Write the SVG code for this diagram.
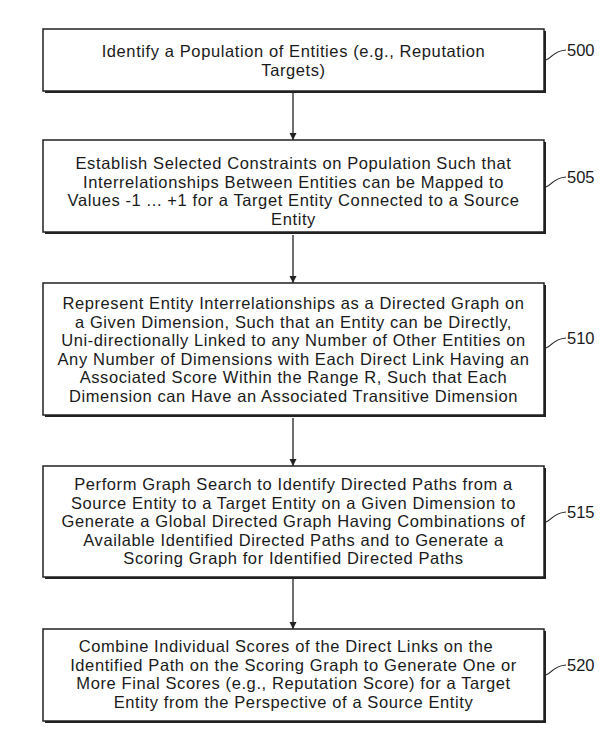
<svg xmlns="http://www.w3.org/2000/svg" width="608" height="735" viewBox="0 0 608 735">
<defs>
<style>
.box{fill:#fff;stroke:#222;stroke-width:1.5}
.sh{fill:#222}
.t{font-family:"Liberation Sans",Arial,sans-serif;font-size:16.5px;letter-spacing:0.6px;fill:#1a1a1a;text-anchor:middle}
.ref{font-family:"Liberation Sans",Arial,sans-serif;font-size:16.5px;fill:#1a1a1a}
.ld{fill:none;stroke:#222;stroke-width:1.2}
.cn{stroke:#222;stroke-width:1.3;fill:none}
</style>
<marker id="ah" viewBox="0 0 10 10" refX="10" refY="5" markerWidth="7" markerHeight="10" markerUnits="userSpaceOnUse" orient="auto">
<path d="M0,0 L10,5 L0,10 Z" fill="#222"/>
</marker>
</defs>
<rect width="608" height="735" fill="#fff"/>
<g id="connectors">
<line class="cn" x1="293" y1="92" x2="293" y2="140" marker-end="url(#ah)"/>
<line class="cn" x1="293" y1="235" x2="293" y2="283" marker-end="url(#ah)"/>
<line class="cn" x1="293" y1="418" x2="293" y2="466" marker-end="url(#ah)"/>
<line class="cn" x1="293" y1="579" x2="293" y2="629" marker-end="url(#ah)"/>
</g>
<g id="n500">
<rect class="sh" x="45" y="31" width="501" height="62"/>
<rect class="box" x="43" y="29" width="501" height="62"/>
<text class="t" x="293.5" y="57">Identify a Population of Entities (e.g., Reputation</text>
<text class="t" x="293.5" y="76">Targets)</text>
<path class="ld" d="M546,60 C552,58 553,51 566,50"/>
<text class="ref" x="567" y="56">500</text>
</g>
<g id="n505">
<rect class="sh" x="45" y="142" width="501" height="92"/>
<rect class="box" x="43" y="140" width="501" height="92"/>
<text class="t" x="293.5" y="169">Establish Selected Constraints on Population Such that</text>
<text class="t" x="293.5" y="187.6">Interrelationships Between Entities can be Mapped to</text>
<text class="t" x="293.5" y="206.2">Values -1 ... +1 for a Target Entity Connected to a Source</text>
<text class="t" x="293.5" y="224.8">Entity</text>
<path class="ld" d="M546,187 C552,185 553,178 566,177"/>
<text class="ref" x="567" y="183">505</text>
</g>
<g id="n510">
<rect class="sh" x="45" y="285" width="501" height="132"/>
<rect class="box" x="43" y="283" width="501" height="132"/>
<text class="t" x="293.5" y="309">Represent Entity Interrelationships as a Directed Graph on</text>
<text class="t" x="293.5" y="327.6">a Given Dimension, Such that an Entity can be Directly,</text>
<text class="t" x="293.5" y="346.2">Uni-directionally Linked to any Number of Other Entities on</text>
<text class="t" x="293.5" y="364.8">Any Number of Dimensions with Each Direct Link Having an</text>
<text class="t" x="293.5" y="383.4">Associated Score Within the Range R, Such that Each</text>
<text class="t" x="293.5" y="402">Dimension can Have an Associated Transitive Dimension</text>
<path class="ld" d="M546,348 C552,346 553,339 566,338"/>
<text class="ref" x="567" y="344">510</text>
</g>
<g id="n515">
<rect class="sh" x="45" y="468" width="501" height="111"/>
<rect class="box" x="43" y="466" width="501" height="111"/>
<text class="t" x="293.5" y="490">Perform Graph Search to Identify Directed Paths from a</text>
<text class="t" x="293.5" y="508.6">Source Entity to a Target Entity on a Given Dimension to</text>
<text class="t" x="293.5" y="527.2">Generate a Global Directed Graph Having Combinations of</text>
<text class="t" x="293.5" y="545.8">Available Identified Directed Paths and to Generate a</text>
<text class="t" x="293.5" y="564.4">Scoring Graph for Identified Directed Paths</text>
<path class="ld" d="M546,522 C552,520 553,513 566,512"/>
<text class="ref" x="567" y="518">515</text>
</g>
<g id="n520">
<rect class="sh" x="45" y="631" width="501" height="92"/>
<rect class="box" x="43" y="629" width="501" height="92"/>
<text class="t" x="286" y="652">Combine Individual Scores of the Direct Links on the</text>
<text class="t" x="293.5" y="670.6">Identified Path on the Scoring Graph to Generate One or</text>
<text class="t" x="293.5" y="689.2">More Final Scores (e.g., Reputation Score) for a Target</text>
<text class="t" x="293.5" y="707.8">Entity from the Perspective of a Source Entity</text>
<path class="ld" d="M546,675 C552,673 553,666 566,665"/>
<text class="ref" x="567" y="671">520</text>
</g>
</svg>
